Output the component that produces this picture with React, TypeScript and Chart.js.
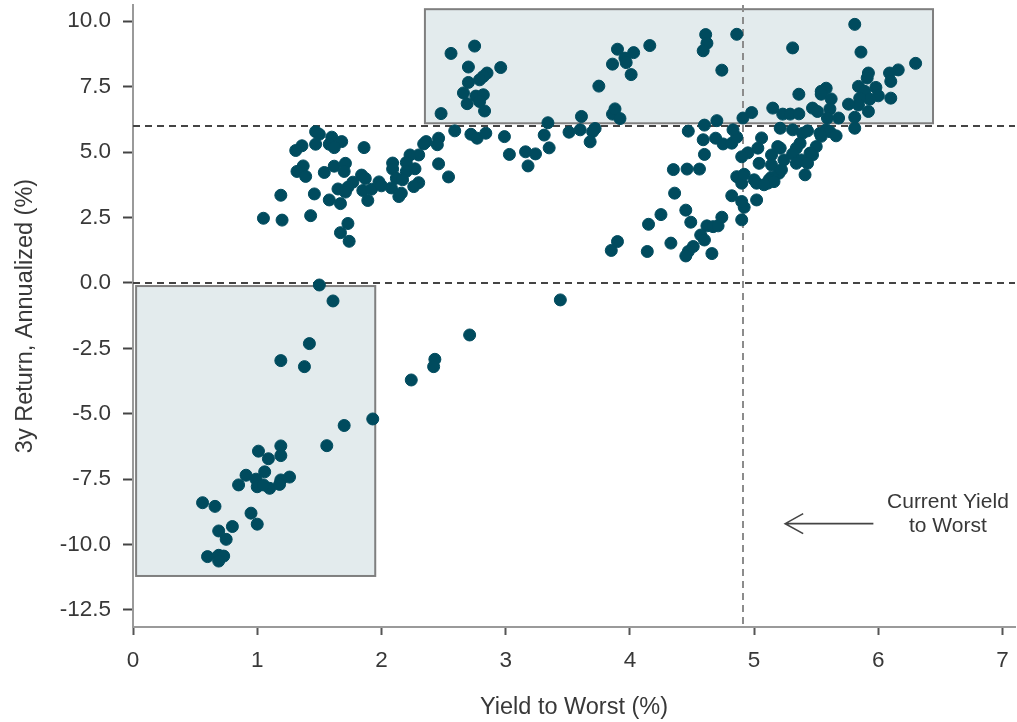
import React, { useEffect, useRef } from "react";
import { Chart, registerables } from "chart.js";

Chart.register(...registerables);

// Yield to Worst (%) for each fund
const yieldToWorst = [
  // lower-left group
  1.50, 1.61, 1.42, 1.19, 1.38, 1.93, 1.70, 1.56, 1.19, 1.01, 1.19, 1.09, 1.06, 0.91, 1.26, 1.19, 0.99, 0.85, 1.00, 1.10, 1.18, 1.05, 0.56, 0.66, 0.95, 1.00, 0.80, 0.69, 0.75, 0.60, 0.69, 0.73, 0.69,
  // middle stragglers
  3.44, 2.71, 2.43, 2.42, 2.24, 3.85, 3.90,
  // upper-left cluster
  1.47, 1.50, 1.60, 1.68, 1.58, 1.62, 1.47, 1.36, 1.31, 1.86, 1.37, 1.32, 1.39, 1.54, 1.62, 1.71, 1.70, 1.84, 1.87, 1.77, 1.73, 1.65, 1.71, 1.85, 1.92, 1.89, 1.98, 2.00, 2.08, 2.09, 2.09, 2.12, 2.14, 1.19, 1.46, 1.58, 1.67, 1.05, 1.20, 1.43, 1.73, 1.67, 1.74,
  // middle group
  2.75, 2.56, 2.70, 2.96, 2.85, 2.82, 2.79, 2.70, 2.66, 2.76, 2.82, 2.69, 2.79, 2.83, 2.48, 3.90, 3.86, 3.75, 3.86, 3.88, 3.34, 3.61,
  2.59, 2.72, 2.77, 2.84, 2.99, 3.31, 3.51, 3.60, 3.72, 3.70, 3.68, 3.35, 3.03, 3.16, 3.24, 3.18, 2.46, 2.36, 2.34, 2.45, 2.46, 2.54, 2.30, 2.23, 2.20, 2.27, 2.20, 2.30, 2.26, 2.17, 2.16,
  // upper-middle / right group
  4.61, 4.62, 4.59, 4.86, 4.74, 4.16, 4.03, 3.96, 3.97, 4.01, 3.92, 5.15, 4.98, 4.91, 4.70, 4.60, 4.47, 4.59, 4.69, 4.75, 4.82, 4.86, 4.83, 4.60, 5.06, 5.03, 4.95, 4.90, 5.14, 5.04, 5.19, 4.35, 4.46, 4.56,
  4.36, 4.45, 4.25, 4.15, 4.49, 4.62, 4.67, 4.74, 4.71, 4.57, 4.60, 4.14, 4.33, 4.51, 4.47, 4.45, 4.66, 4.90, 4.92, 4.90, 4.82, 5.02, 4.86, 4.90, 4.92, 5.00, 5.02, 5.11, 5.14, 5.14, 5.20,
  5.81, 5.31, 5.86, 6.30, 6.16, 6.09, 5.92, 5.91, 6.10, 5.84, 5.98, 5.89, 6.00, 6.10, 5.93, 5.85, 5.84, 5.76, 5.92, 5.81, 5.58, 5.54, 5.54, 5.62, 5.36, 5.47, 5.51, 5.61, 5.59, 5.68, 5.23, 5.29, 5.36, 5.21, 5.31, 5.39, 5.53, 5.58, 5.81,
  5.43, 5.61, 5.66, 5.54, 5.37, 5.34, 5.21, 5.50, 5.45, 5.31, 5.24, 5.38, 5.47, 5.34, 5.43, 5.22, 5.41, 5.12, 5.16, 5.08,
];

// 3y Return, Annualized (%) for each fund (same order)
const return3y = [
  -0.08, -0.69, -2.32, -2.97, -3.20, -5.20, -5.45, -6.22, -6.23, -6.43, -6.60, -6.72, -7.22, -7.35, -7.42, -7.53, -7.50, -7.72, -7.79, -7.85, -7.70, -7.72, -8.40, -8.54, -8.80, -9.22, -9.31, -9.48, -9.80, -10.46, -10.41, -10.44, -10.63,
  -0.65, -1.99, -2.92, -3.20, -3.71, 1.24, 1.58,
  5.78, 5.68, 5.57, 5.40, 5.30, 5.17, 5.30, 5.24, 5.06, 5.17, 4.47, 4.26, 4.07, 4.22, 4.46, 4.57, 4.26, 4.12, 3.99, 3.85, 3.66, 3.59, 3.47, 3.53, 3.58, 3.15, 3.86, 3.71, 3.63, 4.58, 4.35, 4.00, 3.30, 3.35, 3.40, 3.17, 3.03, 2.47, 2.40, 2.57, 2.27, 1.92, 1.59,
  9.05, 8.77, 8.25, 8.23, 8.02, 7.89, 7.76, 7.66, 7.26, 7.14, 7.19, 6.85, 6.93, 6.57, 6.47, 8.93, 8.36, 7.52, 6.45, 6.65, 6.12, 6.36,
  5.81, 5.68, 5.53, 5.72, 5.59, 5.65, 5.76, 5.85, 5.90, 5.78, 5.39, 5.16, 4.91, 5.01, 4.93, 4.47, 5.53, 5.40, 5.31, 5.28, 4.55, 4.05, 4.89, 4.89, 4.60, 4.36, 4.26, 3.83, 3.68, 3.94, 3.43,
  9.49, 9.16, 8.87, 9.50, 8.13, 9.07, 8.80, 8.59, 8.42, 7.96, 6.28, 6.68, 6.51, 6.30, 6.20, 6.03, 5.80, 5.47, 5.53, 5.31, 5.34, 5.57, 5.85, 4.91, 5.54, 5.15, 4.97, 4.82, 4.89, 4.57, 5.21, 4.33, 4.35, 4.35,
  3.43, 2.78, 2.61, 2.24, 2.32, 2.18, 2.15, 2.51, 2.18, 1.83, 1.64, 1.20, 1.52, 1.39, 1.20, 1.03, 1.12, 2.41, 2.89, 3.11, 3.33, 3.17, 4.06, 3.81, 4.15, 3.94, 3.81, 3.81, 4.04, 4.51, 4.19,
  9.88, 8.98, 8.82, 8.39, 8.14, 8.02, 8.02, 7.83, 7.70, 7.51, 7.47, 7.32, 7.15, 7.06, 7.02, 7.06, 6.80, 6.83, 6.55, 6.33, 7.44, 7.32, 7.21, 7.03, 7.21, 6.68, 6.55, 6.65, 6.30, 6.30, 6.45, 6.45, 6.46, 5.91, 5.85, 5.72, 5.72, 5.85, 5.91,
  5.81, 5.78, 5.62, 5.60, 5.34, 5.15, 5.15, 5.21, 4.96, 4.93, 4.70, 4.70, 4.89, 4.57, 4.57, 4.32, 4.13, 3.94, 3.87, 3.75,
];

const xTicks = [0, 1, 2, 3, 4, 5, 6, 7];
const yTicks = [-12.5, -10, -7.5, -5, -2.5, 0, 2.5, 5, 7.5, 10];
const xRange = [0, 7.1];
const yRange = [-13.15, 10.62];

// reference lines
const hLines = [6, 0];
const currentYieldToWorst = 4.91;

// highlighted regions [xFrom, xTo], [yFrom, yTo]
const lowBoxX = [0.025, 1.95];
const lowBoxY = [-11.2, -0.12];
const highBoxX = [2.35, 6.44];
const highBoxY = [6.1, 10.46];

// annotation
const arrowFromX = 5.96;
const arrowToX = 5.25;
const arrowY = -9.2;
const noteX = 6.56;
const noteLines = ["Current Yield", "to Worst"];

const xTitle = "Yield to Worst (%)";
const yTitle = "3y Return, Annualized (%)";

const FONT = "'Liberation Sans', Arial, Helvetica, sans-serif";
const TEXT = "#383838";
const DOT = "#004b5e";

const overlayPlugin = {
  id: "overlay",
  beforeDatasetsDraw(chart: any) {
    const { ctx, chartArea: a, scales } = chart;
    const x = scales.x;
    const y = scales.y;
    ctx.save();
    ctx.beginPath();
    ctx.rect(a.left, a.top, a.right - a.left, a.bottom - a.top);
    ctx.clip();
    const boxes = [
      [lowBoxX, lowBoxY],
      [highBoxX, highBoxY],
    ];
    for (const [bx, by] of boxes) {
      const l = x.getPixelForValue(bx[0]);
      const r = x.getPixelForValue(bx[1]);
      const t = y.getPixelForValue(by[1]);
      const b = y.getPixelForValue(by[0]);
      ctx.fillStyle = "#e3ebed";
      ctx.fillRect(l, t, r - l, b - t);
      ctx.strokeStyle = "#7f7f7f";
      ctx.lineWidth = 2;
      ctx.strokeRect(l, t, r - l, b - t);
    }
    ctx.setLineDash([7, 5]);
    ctx.lineWidth = 2;
    ctx.strokeStyle = "#444444";
    for (const v of hLines) {
      const py = Math.round(y.getPixelForValue(v));
      ctx.beginPath();
      ctx.moveTo(a.left, py);
      ctx.lineTo(a.right, py);
      ctx.stroke();
    }
    ctx.strokeStyle = "#8c8c8c";
    const px = Math.round(x.getPixelForValue(currentYieldToWorst));
    ctx.beginPath();
    ctx.moveTo(px, a.top);
    ctx.lineTo(px, a.bottom);
    ctx.stroke();
    ctx.restore();
  },
  afterDraw(chart: any) {
    const { ctx, scales } = chart;
    const x = scales.x;
    const y = scales.y;
    const x0 = x.getPixelForValue(arrowFromX);
    const x1 = x.getPixelForValue(arrowToX);
    const py = y.getPixelForValue(arrowY);
    ctx.save();
    ctx.strokeStyle = "#444444";
    ctx.lineWidth = 1.6;
    ctx.beginPath();
    ctx.moveTo(x0, py);
    ctx.lineTo(x1, py);
    ctx.moveTo(x1 + 18, py - 10);
    ctx.lineTo(x1, py);
    ctx.lineTo(x1 + 18, py + 10);
    ctx.stroke();
    ctx.fillStyle = TEXT;
    ctx.font = `21px ${FONT}`;
    ctx.textAlign = "center";
    ctx.textBaseline = "middle";
    const nx = x.getPixelForValue(noteX);
    noteLines.forEach((line, i) => {
      ctx.fillText(line, nx, py - 21 + i * 24);
    });
    ctx.restore();
  },
};

export default function App() {
  const canvasRef = useRef<HTMLCanvasElement | null>(null);

  useEffect(() => {
    document.body.style.margin = "0";
    const canvas = canvasRef.current;
    if (!canvas) return;
    const points = yieldToWorst.map((v, i) => ({ x: v, y: return3y[i] }));
    const chart = new Chart(canvas, {
      type: "scatter",
      data: {
        datasets: [
          {
            data: points,
            pointRadius: 6,
            pointHoverRadius: 6,
            pointBackgroundColor: DOT,
            pointBorderColor: DOT,
            pointBorderWidth: 1,
          },
        ],
      },
      options: {
        animation: false,
        responsive: false,
        maintainAspectRatio: false,
        devicePixelRatio: 1,
        layout: { autoPadding: false, padding: { top: 5, right: 2, left: 0, bottom: 0 } },
        plugins: {
          legend: { display: false },
          tooltip: { enabled: false },
        },
        scales: {
          x: {
            type: "linear",
            min: xRange[0],
            max: xRange[1],
            afterBuildTicks: (s: any) => {
              s.ticks = xTicks.map((v) => ({ value: v }));
            },
            afterFit: (s: any) => {
              s.height = 95;
              s.paddingLeft = 0;
              s.paddingRight = 0;
            },
            border: { display: true, color: "#9a9a9a", width: 2 },
            grid: {
              display: true,
              drawOnChartArea: false,
              drawTicks: true,
              tickLength: 8,
              tickWidth: 2,
              tickColor: "#555555",
            },
            ticks: {
              color: TEXT,
              font: { family: FONT, size: 22.5 },
              padding: 12,
              callback: (v: any) => String(v),
            },
            title: {
              display: true,
              text: xTitle,
              color: TEXT,
              font: { family: FONT, size: 23.5 },
              padding: { top: 0, bottom: 0 },
            },
          },
          y: {
            type: "linear",
            min: yRange[0],
            max: yRange[1],
            afterBuildTicks: (s: any) => {
              s.ticks = yTicks.map((v) => ({ value: v }));
            },
            afterFit: (s: any) => {
              s.width = 133;
              s.paddingTop = 0;
              s.paddingBottom = 0;
              s.paddingLeft = 0;
              s.paddingRight = 0;
            },
            border: { display: true, color: "#9a9a9a", width: 2 },
            grid: {
              display: true,
              drawOnChartArea: false,
              drawTicks: true,
              tickLength: 10,
              tickWidth: 2,
              tickColor: "#444444",
            },
            ticks: {
              color: TEXT,
              font: { family: FONT, size: 22.5 },
              padding: 12,
              callback: (v: any) => Number(v).toFixed(1),
            },
            title: {
              display: true,
              text: yTitle,
              color: TEXT,
              font: { family: FONT, size: 23.5 },
              padding: { top: 11, bottom: 0 },
            },
          },
        },
      },
      plugins: [overlayPlugin],
    });
    return () => chart.destroy();
  }, []);

  return (
    <div style={{ position: "absolute", left: 0, top: 0, width: 1017, height: 722 }}>
      <canvas ref={canvasRef} width={1017} height={722} style={{ display: "block", width: 1017, height: 722 }} />
    </div>
  );
}
